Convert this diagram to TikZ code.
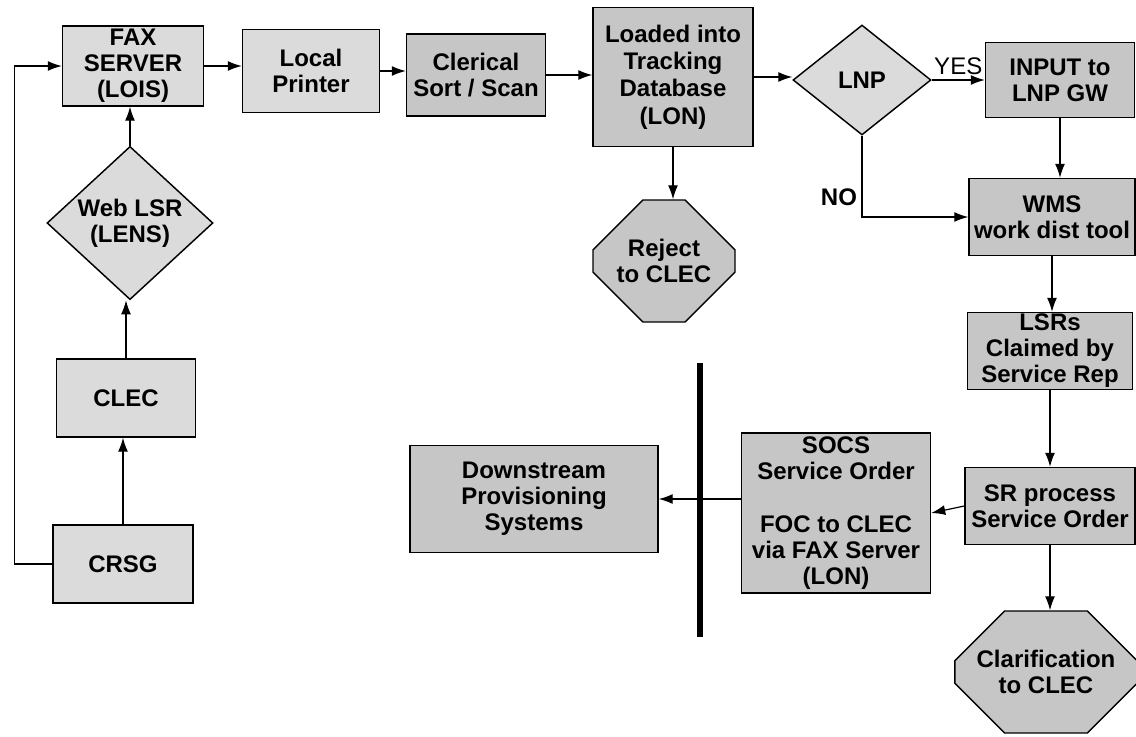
\documentclass[tikz,border=0pt]{standalone}
\usepackage{fontspec}
\setmainfont{Liberation Sans}
\usetikzlibrary{arrows, arrows.meta}
\usetikzlibrary{shapes.geometric, shapes.misc}

\begin{document}
\begin{tikzpicture}[x=0.75pt, y=-0.75pt,
    box/.style={rectangle, draw, line width=1.1pt, align=center, inner sep=1pt,
      font=\fontsize{18}{19.5}\selectfont\bfseries},
    choice/.style={diamond, draw, line width=1.1pt, align=center, inner sep=0pt,
      font=\fontsize{18}{19.5}\selectfont\bfseries},
    halt/.style={chamfered rectangle, chamfered rectangle xsep=21pt, chamfered rectangle ysep=21pt,
      draw, line width=1.1pt, align=center, inner sep=0pt, fill=gray!45,
      minimum width=106.5pt, minimum height=91.5pt, font=\fontsize{18}{19.5}\selectfont\bfseries},
    lite/.style={fill=gray!28},
    dark/.style={fill=gray!45},
    flow/.style={-{Latex[length=10.5pt, width=7.5pt]}, line width=0.9pt},
    tag/.style={font=\fontsize{18}{19.5}\selectfont}]
  \useasboundingbox (0,0) rectangle (1136,736);

  \node[box, lite, minimum width=105.75pt, minimum height=60pt] (fax) at (133,66) {FAX\\SERVER\\(LOIS)};
  \node[box, lite, minimum width=102.75pt, minimum height=62.25pt] (printer) at (311,71) {Local\\Printer};
  \node[box, dark, minimum width=104.25pt, minimum height=61.5pt] (sort) at (476,75) {Clerical\\Sort / Scan};
  \node[box, dark, minimum width=120pt, minimum height=104.25pt, font=\fontsize{18}{20.5}\selectfont\bfseries] (loaded) at (673,77) {Loaded into\\Tracking\\Database\\(LON)};
  \node[choice, lite, minimum width=103.5pt, minimum height=82.5pt] (lnp) at (862,80) {LNP};
  \node[box, dark, minimum width=111.75pt, minimum height=56.25pt] (input) at (1060,80) {INPUT to\\LNP GW};
  \node[box, dark, minimum width=124.5pt, minimum height=57.75pt] (wms) at (1052,217) {WMS\\work dist tool};
  \node[box, dark, minimum width=123.75pt, minimum height=57.75pt] (lsrs) at (1050,351) {LSRs\\Claimed by\\Service Rep};
  \node[box, dark, minimum width=127.5pt, minimum height=57.75pt] (sr) at (1050,506) {SR process\\Service Order};
  \node[halt] (clar) at (1046,672) {Clarification\\to CLEC};
  \node[box, dark, minimum width=141.75pt, minimum height=120pt] (socs) at (836,513) {SOCS\\Service Order\\[20pt]FOC to CLEC\\via FAX Server\\(LON)};
  \node[box, dark, minimum width=186pt, minimum height=80.25pt] (down) at (534,499) {Downstream\\Provisioning\\Systems};
  \node[halt] (reject) at (664,261) {Reject\\to CLEC};

  \node[choice, lite, minimum width=124.5pt, minimum height=92pt] (web) at (130,223) {Web LSR\\(LENS)};
  \node[box, lite, minimum width=104.25pt, minimum height=58.5pt] (clec) at (126,398) {CLEC};
  \node[box, lite, minimum width=105pt, minimum height=58.5pt] (crsg) at (123,564) {CRSG};

  \coordinate (bartop) at (700,363);
  \coordinate (barbot) at (700,637);
  \draw[line width=5pt] (bartop) -- (barbot);

  \draw[flow] (crsg.north) -- (crsg.north |- clec.south);
  \draw[flow] (clec.north) -- (clec.north |- web.south);
  \draw[flow] (web.north) -- (web.north |- fax.south);
  \draw[flow] (crsg.west) -- ++(-38,0) |- (fax.west);

  \draw[flow] (fax.east) -- (fax.east -| printer.west);
  \draw[flow] (printer.east) -- (printer.east -| sort.west);
  \draw[flow] (sort.east) -- (sort.east -| loaded.west);
  \draw[flow] (loaded.east) -- (loaded.east -| lnp.west);
  \draw[flow] (loaded.south) -- (loaded.south |- reject.north);
  \draw[flow] (lnp.east) -- (lnp.east -| input.west) node[tag, midway, above] {YES};
  \draw[flow] (lnp.south) |- node[tag, pos=0.38, left, font=\fontsize{18}{19.5}\selectfont\bfseries] {NO} (wms.west);

  \draw[flow] (input.south) -- (input.south |- wms.north);
  \draw[flow] (wms.south) -- (wms.south |- lsrs.north);
  \draw[flow] (lsrs.south) -- (lsrs.south |- sr.north);
  \draw[flow] (sr.south) -- (sr.south |- clar.north);
  \draw[flow] (sr.west) -- (socs.east);
  \draw[flow] (socs.west |- down.east) -- (down.east);
\end{tikzpicture}
\end{document}
